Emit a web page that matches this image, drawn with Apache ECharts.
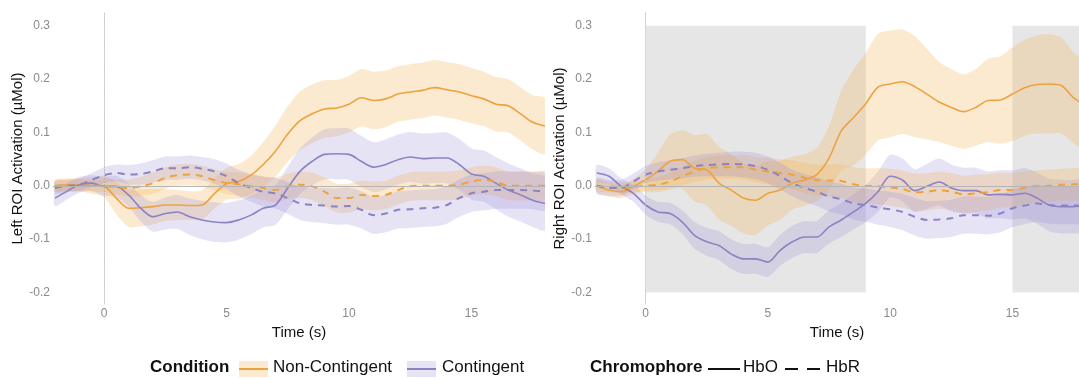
<!DOCTYPE html>
<html>
<head>
<meta charset="utf-8">
<script src="https://cdn.jsdelivr.net/npm/echarts@6/dist/echarts.min.js"></script>
<style>
  html, body { margin: 0; padding: 0; background: #fff; }
  #chart { width: 1079px; height: 380px; }
</style>
</head>
<body>
<div id="chart"></div>
<script>
// time points (s)
const time = [-2, -1.5, -1, -0.5, 0, 0.5, 1, 1.5, 2, 2.5, 3, 3.5, 4, 4.5, 5, 5.5, 6, 6.5, 7, 7.5,
  8, 8.5, 9, 9.5, 10, 10.5, 11, 11.5, 12, 12.5, 13, 13.5, 14, 14.5, 15, 15.5, 16, 16.5, 17, 17.5, 18];

// Left ROI
const leftNcHbo = [0, 0.002, 0.002, 0, -0.001, -0.023, -0.042, -0.041, -0.039, -0.036, -0.036, -0.037, -0.036, -0.015, 0.004, 0.008,
  0.02, 0.04, 0.065, 0.097, 0.122, 0.135, 0.144, 0.146, 0.153, 0.165, 0.16, 0.163, 0.172, 0.176, 0.179, 0.184,
  0.18, 0.176, 0.169, 0.163, 0.153, 0.15, 0.135, 0.119, 0.112];
const leftNcHboCi = [0.012, 0.012, 0.012, 0.015, 0.02, 0.03, 0.035, 0.035, 0.033, 0.03, 0.028, 0.027, 0.027, 0.028, 0.03, 0.033,
  0.036, 0.042, 0.048, 0.052, 0.055, 0.055, 0.054, 0.053, 0.053, 0.054, 0.054, 0.053, 0.052, 0.052, 0.052, 0.052,
  0.052, 0.052, 0.052, 0.051, 0.051, 0.05, 0.05, 0.051, 0.052];
const leftCHbo = [-0.023, -0.01, 0.002, 0.005, -0.001, -0.001, -0.017, -0.042, -0.058, -0.052, -0.049, -0.058, -0.064, -0.068, -0.069, -0.064,
  -0.055, -0.042, -0.036, -0.004, 0.027, 0.046, 0.059, 0.06, 0.059, 0.046, 0.035, 0.04, 0.049, 0.054, 0.051, 0.052,
  0.052, 0.04, 0.022, 0.018, 0.005, -0.008, -0.017, -0.027, -0.033];
const leftCHboCi = [0.015, 0.015, 0.015, 0.015, 0.018, 0.02, 0.022, 0.025, 0.028, 0.03, 0.032, 0.034, 0.036, 0.037, 0.037, 0.037,
  0.036, 0.036, 0.037, 0.04, 0.043, 0.045, 0.047, 0.048, 0.048, 0.048, 0.047, 0.047, 0.047, 0.047, 0.047, 0.047,
  0.048, 0.048, 0.048, 0.048, 0.049, 0.05, 0.05, 0.05, 0.05];
const leftNcHbr = [0, 0.001, 0.001, 0, 0, -0.002, -0.004, -0.001, 0.005, 0.015, 0.02, 0.021, 0.018, 0.011, 0.005, 0.003,
  -0.001, -0.004, -0.008, -0.001, 0.002, -0.001, -0.011, -0.023, -0.023, -0.017, -0.019, -0.017, -0.008, -0.001, 0, 0,
  0, 0.002, 0.008, 0.011, 0.008, 0, 0, 0, 0];
const leftNcHbrCi = [0.01, 0.01, 0.01, 0.01, 0.012, 0.014, 0.016, 0.018, 0.02, 0.02, 0.02, 0.02, 0.02, 0.02, 0.021, 0.022,
  0.022, 0.022, 0.023, 0.024, 0.025, 0.026, 0.027, 0.027, 0.027, 0.027, 0.027, 0.027, 0.027, 0.027, 0.027, 0.027,
  0.027, 0.027, 0.027, 0.027, 0.027, 0.027, 0.027, 0.027, 0.027];
const leftCHbr = [-0.004, 0, 0.002, 0.011, 0.02, 0.024, 0.021, 0.022, 0.027, 0.033, 0.033, 0.035, 0.032, 0.027, 0.018, 0.005,
  -0.004, -0.011, -0.014, -0.023, -0.033, -0.036, -0.037, -0.039, -0.038, -0.045, -0.055, -0.052, -0.045, -0.044, -0.042, -0.041,
  -0.036, -0.023, -0.014, -0.011, -0.008, -0.008, -0.008, -0.009, -0.011];
const leftCHbrCi = [0.012, 0.012, 0.012, 0.013, 0.015, 0.016, 0.018, 0.02, 0.021, 0.022, 0.022, 0.022, 0.022, 0.023, 0.024, 0.025,
  0.026, 0.028, 0.029, 0.03, 0.031, 0.032, 0.033, 0.034, 0.035, 0.035, 0.035, 0.035, 0.035, 0.035, 0.035, 0.035,
  0.035, 0.035, 0.035, 0.035, 0.035, 0.035, 0.035, 0.035, 0.035];

// Right ROI
const rightNcHbo = [0, -0.008, -0.011, -0.001, 0.011, 0.027, 0.046, 0.049, 0.033, 0.03, 0.005, -0.008, -0.023, -0.027, -0.014, -0.008,
  0.005, 0.011, 0.021, 0.052, 0.103, 0.128, 0.154, 0.185, 0.191, 0.195, 0.186, 0.172, 0.157, 0.147, 0.139, 0.147,
  0.16, 0.161, 0.172, 0.184, 0.19, 0.191, 0.188, 0.165, 0.15];
const rightNcHboCi = [0.012, 0.012, 0.012, 0.014, 0.02, 0.035, 0.05, 0.055, 0.062, 0.067, 0.068, 0.067, 0.066, 0.065, 0.06, 0.055,
  0.05, 0.048, 0.05, 0.06, 0.075, 0.09, 0.095, 0.1, 0.1, 0.098, 0.095, 0.085, 0.075, 0.072, 0.07, 0.072,
  0.078, 0.082, 0.088, 0.09, 0.092, 0.093, 0.09, 0.085, 0.082];
const rightCHbo = [0.024, 0.018, -0.001, -0.014, -0.036, -0.049, -0.052, -0.068, -0.093, -0.105, -0.112, -0.128, -0.137, -0.137, -0.143, -0.121,
  -0.105, -0.096, -0.096, -0.077, -0.064, -0.049, -0.033, -0.011, 0.018, 0.011, -0.009, -0.001, 0.007, -0.004, -0.009, -0.009,
  -0.017, -0.016, -0.017, -0.014, -0.023, -0.036, -0.039, -0.039, -0.037];
const rightCHboCi = [0.015, 0.015, 0.015, 0.016, 0.018, 0.019, 0.02, 0.022, 0.025, 0.026, 0.027, 0.028, 0.028, 0.028, 0.028, 0.029,
  0.03, 0.03, 0.03, 0.031, 0.032, 0.033, 0.035, 0.038, 0.04, 0.04, 0.04, 0.042, 0.044, 0.044, 0.043, 0.043,
  0.044, 0.045, 0.046, 0.047, 0.048, 0.049, 0.05, 0.05, 0.05];
const rightNcHbr = [0, -0.002, -0.004, -0.002, 0, 0.002, 0.008, 0.018, 0.027, 0.033, 0.035, 0.035, 0.035, 0.03, 0.027, 0.024,
  0.021, 0.015, 0.011, 0.01, 0.009, 0.003, 0, -0.001, -0.003, -0.006, -0.012, -0.011, -0.008, -0.011, -0.016, -0.014,
  -0.012, -0.008, -0.008, -0.004, -0.001, 0, 0.002, 0.003, 0.003];
const rightNcHbrCi = [0.01, 0.01, 0.01, 0.01, 0.012, 0.014, 0.016, 0.018, 0.02, 0.021, 0.022, 0.022, 0.023, 0.024, 0.025, 0.026,
  0.027, 0.028, 0.029, 0.03, 0.031, 0.032, 0.033, 0.034, 0.035, 0.035, 0.035, 0.035, 0.035, 0.035, 0.035, 0.035,
  0.034, 0.033, 0.032, 0.031, 0.03, 0.03, 0.03, 0.03, 0.03];
const rightCHbr = [0, -0.004, -0.004, 0.008, 0.021, 0.027, 0.03, 0.033, 0.037, 0.039, 0.04, 0.041, 0.04, 0.037, 0.03, 0.018,
  0.005, -0.004, -0.011, -0.02, -0.025, -0.033, -0.036, -0.041, -0.044, -0.049, -0.058, -0.064, -0.063, -0.061, -0.055, -0.055,
  -0.056, -0.052, -0.042, -0.037, -0.033, -0.036, -0.037, -0.037, -0.036];
const rightCHbrCi = [0.015, 0.015, 0.015, 0.015, 0.016, 0.017, 0.018, 0.019, 0.02, 0.021, 0.022, 0.023, 0.024, 0.025, 0.025, 0.025,
  0.025, 0.026, 0.027, 0.028, 0.029, 0.03, 0.031, 0.032, 0.033, 0.034, 0.035, 0.035, 0.035, 0.035, 0.035, 0.035,
  0.035, 0.035, 0.035, 0.035, 0.035, 0.035, 0.035, 0.035, 0.035];

const xTicks = [0, 5, 10, 15];
const yTicks = [-0.2, -0.1, 0, 0.1, 0.2, 0.3];
const leftRange = [-2.08, 18];
const rightRange = [-2.07, 17.72];   // right panel is cut off at the image edge
const rightBlocks = [[0, 9], [15, 17.72]];

const ORANGE = '#eea23e';
const PURPLE = '#8c82c2';
const ORANGE_BAND = 'rgba(246, 178, 86, 0.28)';
const PURPLE_BAND = 'rgba(150, 138, 214, 0.24)';

const series = [];

// confidence band drawn as one polygon through the axis scales
function addBand(gi, mean, ci, bandColor) {
  series.push({
    type: 'custom', xAxisIndex: gi, yAxisIndex: gi, silent: true, clip: true, z: 2,
    data: time.map((t, i) => [t, mean[i] - ci[i], mean[i] + ci[i]]),
    encode: { x: 0, y: [1, 2] },
    renderItem: function (params, api) {
      if (params.dataIndex !== 0) return;
      const upper = [], lower = [];
      for (let i = 0; i < time.length; i++) {
        upper.push(api.coord([time[i], mean[i] + ci[i]]));
        lower.push(api.coord([time[i], mean[i] - ci[i]]));
      }
      return {
        type: 'polygon',
        shape: { points: upper.concat(lower.reverse()), smooth: 0.25 },
        style: { fill: bandColor }
      };
    }
  });
}

function addLine(gi, mean, color, dashed) {
  series.push({
    type: 'line', xAxisIndex: gi, yAxisIndex: gi,
    symbol: 'none', smooth: 0.3, silent: true, z: 4,
    lineStyle: { color: color, width: dashed ? 2 : 1.6, type: dashed ? [7, 6] : 'solid' },
    data: time.map((t, i) => [t, mean[i]])
  });
}

// reference lines and stimulus blocks
function addGuides(gi, blocks) {
  series.push({
    type: 'line', xAxisIndex: gi, yAxisIndex: gi, data: [], z: 1, silent: true,
    markLine: {
      silent: true, symbol: 'none', label: { show: false }, animation: false,
      data: [
        { xAxis: 0, lineStyle: { color: '#d6d6d6', type: [1, 2], width: 1 } },
        { yAxis: 0, lineStyle: { color: '#b5b5b5', type: 'solid', width: 1 } }
      ]
    },
    markArea: blocks ? {
      silent: true,
      itemStyle: { color: '#e6e6e6', opacity: 1 },
      data: blocks.map(b => [{ xAxis: b[0], yAxis: -0.2 }, { xAxis: b[1], yAxis: 0.3 }])
    } : undefined
  });
}

addGuides(0, null);
addBand(0, leftNcHbo, leftNcHboCi, ORANGE_BAND);
addBand(0, leftCHbo, leftCHboCi, PURPLE_BAND);
addBand(0, leftNcHbr, leftNcHbrCi, ORANGE_BAND);
addBand(0, leftCHbr, leftCHbrCi, PURPLE_BAND);
addLine(0, leftNcHbo, ORANGE, false);
addLine(0, leftCHbo, PURPLE, false);
addLine(0, leftNcHbr, ORANGE, true);
addLine(0, leftCHbr, PURPLE, true);

addGuides(1, rightBlocks);
addBand(1, rightNcHbo, rightNcHboCi, ORANGE_BAND);
addBand(1, rightCHbo, rightCHboCi, PURPLE_BAND);
addBand(1, rightNcHbr, rightNcHbrCi, ORANGE_BAND);
addBand(1, rightCHbr, rightCHbrCi, PURPLE_BAND);
addLine(1, rightNcHbo, ORANGE, false);
addLine(1, rightCHbo, PURPLE, false);
addLine(1, rightNcHbr, ORANGE, true);
addLine(1, rightCHbr, PURPLE, true);

function xAxisFor(gi, range) {
  return {
    type: 'value', gridIndex: gi, min: range[0], max: range[1],
    name: 'Time (s)', nameLocation: 'middle', nameGap: 15,
    nameTextStyle: { color: '#111', fontSize: 15, fontFamily: 'Liberation Sans' },
    axisLine: { lineStyle: { color: '#cccccc' } },
    axisTick: { show: false },
    splitLine: { show: false },
    axisLabel: { customValues: xTicks, color: '#8a8a8a', fontSize: 12, margin: 4, fontFamily: 'Liberation Sans' }
  };
}

function yAxisFor(gi, name) {
  return {
    type: 'value', gridIndex: gi, min: -0.2216, max: 0.324,
    name: name, nameLocation: 'middle', nameGap: 28,
    nameTextStyle: { color: '#111', fontSize: 15, fontFamily: 'Liberation Sans' },
    axisLine: { show: true, lineStyle: { color: '#cccccc' } },
    axisTick: { show: false },
    splitLine: { show: false },
    axisLabel: {
      customValues: yTicks, color: '#8a8a8a', fontSize: 12, margin: 3, fontFamily: 'Liberation Sans',
      formatter: v => v.toFixed(1)
    }
  };
}

const legendFont = { fontFamily: 'Liberation Sans', fontSize: 17, fill: '#111' };
const legendY = 369;

const chart = echarts.init(document.getElementById('chart'));
chart.setOption({
  animation: false,
  grid: [
    { left: 53, top: 13, width: 492, height: 291 },
    { left: 595, top: 13, width: 484, height: 291 }
  ],
  xAxis: [xAxisFor(0, leftRange), xAxisFor(1, rightRange)],
  yAxis: [yAxisFor(0, 'Left ROI Activation (\u00b5Mol)'), yAxisFor(1, 'Right ROI Activation (\u00b5Mol)')],
  series: series,
  graphic: [
    { type: 'text', left: 150, top: legendY - 10, style: Object.assign({ text: 'Condition', fontWeight: 'bold' }, legendFont) },
    { type: 'rect', shape: { x: 239, y: legendY - 8, width: 29, height: 16 }, style: { fill: ORANGE_BAND } },
    { type: 'line', shape: { x1: 239, y1: legendY, x2: 268, y2: legendY }, style: { stroke: ORANGE, lineWidth: 2 } },
    { type: 'text', left: 273, top: legendY - 10, style: Object.assign({ text: 'Non-Contingent' }, legendFont) },
    { type: 'rect', shape: { x: 407, y: legendY - 8, width: 29, height: 16 }, style: { fill: PURPLE_BAND } },
    { type: 'line', shape: { x1: 407, y1: legendY, x2: 436, y2: legendY }, style: { stroke: PURPLE, lineWidth: 2 } },
    { type: 'text', left: 442, top: legendY - 10, style: Object.assign({ text: 'Contingent' }, legendFont) },
    { type: 'text', left: 590, top: legendY - 10, style: Object.assign({ text: 'Chromophore', fontWeight: 'bold' }, legendFont) },
    { type: 'line', shape: { x1: 708, y1: legendY, x2: 740, y2: legendY }, style: { stroke: '#111', lineWidth: 2 } },
    { type: 'text', left: 743, top: legendY - 10, style: Object.assign({ text: 'HbO' }, legendFont) },
    { type: 'line', shape: { x1: 785, y1: legendY, x2: 820, y2: legendY }, style: { stroke: '#111', lineWidth: 2, lineDash: [13, 9] } },
    { type: 'text', left: 826, top: legendY - 10, style: Object.assign({ text: 'HbR' }, legendFont) }
  ]
});
</script>
</body>
</html>
